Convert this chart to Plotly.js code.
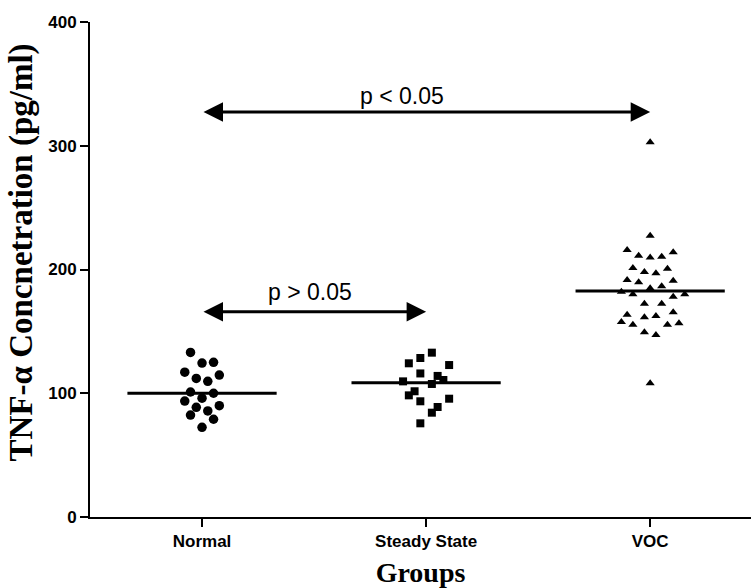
<!DOCTYPE html>
<html>
<head>
<meta charset="utf-8">
<script src="https://cdn.plot.ly/plotly-3.0.1.min.js"></script>
<style>html,body{margin:0;padding:0;background:#fff;overflow:hidden;}</style>
</head>
<body>
<div id="chart" style="width:751px;height:588px;"></div>
<script>
// Categories
const categories = ["Normal", "Steady State", "VOC"];
const yTicks = [0, 100, 200, 300, 400];

// TNF-α values (pg/ml)
const normalValues = [133, 124.4, 125, 117, 112, 109.6, 114.7, 101, 100, 96, 93.7, 88.6, 90, 85.7, 82.4, 79, 72.5];
const normalSlots  = [-2, 0, 2, -3, -1, 1, 3, -2, 2, 0, -3, -1, 3, 1, -2, 2, 0];

const steadyValues = [132.8, 128.5, 124.2, 122.8, 116, 114, 110.7, 109.6, 107.5, 101.6, 98.3, 93.5, 95.6, 88.9, 84.3, 75.7];
const steadySlots  = [1, -1, -3, 4, -1, 2, 3, -4, 1, -2, -3, -1, 4, 2, 1, -1];

const vocValues = [302.8, 227.3, 215.8, 211.2, 209.6, 210.4, 213.9, 201.2, 198, 196.9, 200.7, 191.5, 189.6, 191,
                   184.8, 186.4, 182.1, 179.9, 178, 179.9, 172.4, 172.4, 163.5, 161.4, 162.4, 165.4, 157.6, 155.4,
                   155.4, 156.5, 149.2, 147.1, 108];
const vocSlots  = [0, 0, -4, -2, 0, 2, 4, -3, -1, 1, 3, -4, -2, 4, 0, 2, -5, -3, 4, 6, -1, 2, -4, -1, 1, 4, -5, -3, 3, 5, -1, 1, 0];

// Medians (horizontal lines)
const medians = [100, 108.5, 182.6];

// Significance comparisons
const comparisons = [
  {from: 0, to: 2, y: 327.3, label: "p < 0.05", labelX: 0.893, labelY: 340},
  {from: 0, to: 1, y: 165.9, label: "p > 0.05", labelX: 0.48, labelY: 182}
];

const slotWidth = 0.0257;
const halfLine = 0.333;

function xs(catIndex, slots) { return slots.map(s => catIndex + s * slotWidth); }

const traces = [
  {type: "scatter", mode: "markers", x: xs(0, normalSlots), y: normalValues,
   marker: {symbol: "circle", size: 9.5, color: "#000"}, hoverinfo: "y", showlegend: false},
  {type: "scatter", mode: "markers", x: xs(1, steadySlots), y: steadyValues,
   marker: {symbol: "square", size: 8, color: "#000"}, hoverinfo: "y", showlegend: false},
  {type: "scatter", mode: "markers", x: xs(2, vocSlots), y: vocValues,
   marker: {symbol: "triangle-up", size: 8, color: "#000"}, hoverinfo: "y", showlegend: false}
];
medians.forEach((m, i) => {
  traces.push({type: "scatter", mode: "lines", x: [i - halfLine, i + halfLine], y: [m, m],
               line: {color: "#000", width: 3}, hoverinfo: "skip", showlegend: false});
});

const annotations = [];
comparisons.forEach(c => {
  annotations.push({
    x: c.to, y: c.y, ax: c.from, ay: c.y, xref: "x", yref: "y", axref: "x", ayref: "y",
    text: "", showarrow: true, arrowside: "end+start",
    arrowhead: 2, startarrowhead: 2, arrowsize: 1.3, startarrowsize: 1.3,
    arrowwidth: 3, arrowcolor: "#000", standoff: 0, startstandoff: 0
  });
  annotations.push({
    x: c.labelX, y: c.labelY, xref: "x", yref: "y", text: c.label, showarrow: false,
    font: {family: "Liberation Sans, Arial, sans-serif", size: 23, color: "#000"},
    xanchor: "center", yanchor: "middle"
  });
});
annotations.push({
  x: -0.104, y: 0.535, xref: "paper", yref: "paper", textangle: -90,
  text: "TNF-α Concnetration (pg/ml)", showarrow: false,
  font: {family: "Liberation Serif, Times New Roman, serif", size: 33, color: "#000000", weight: "bold"},
  xanchor: "center", yanchor: "middle"
});

const layout = {
  width: 751, height: 588,
  margin: {l: 90, r: 0, t: 22, b: 71},
  paper_bgcolor: "#fff", plot_bgcolor: "#fff",
  showlegend: false,
  xaxis: {
    range: [-0.5, 2.45], tickmode: "array", tickvals: [0, 1, 2], ticktext: categories,
    showgrid: false, zeroline: false, showline: true, linecolor: "#000", linewidth: 2,
    ticks: "outside", ticklen: 8, tickwidth: 2, tickcolor: "#000",
    tickfont: {family: "Liberation Sans, Arial, sans-serif", size: 17, color: "#000", weight: "bold"},
    title: {text: "Groups", standoff: 12,
            font: {family: "Liberation Serif, Times New Roman, serif", size: 28, color: "#000", weight: "bold"}}
  },
  yaxis: {
    range: [0, 400], tickmode: "array", tickvals: yTicks, ticktext: yTicks.map(String),
    showgrid: false, zeroline: false, showline: true, linecolor: "#000", linewidth: 2,
    ticks: "outside", ticklen: 8, tickwidth: 2, tickcolor: "#000",
    tickfont: {family: "Liberation Sans, Arial, sans-serif", size: 17, color: "#000", weight: "bold"}
  },
  annotations: annotations
};

Plotly.newPlot("chart", traces, layout, {displayModeBar: false, staticPlot: true});
</script>
</body>
</html>
